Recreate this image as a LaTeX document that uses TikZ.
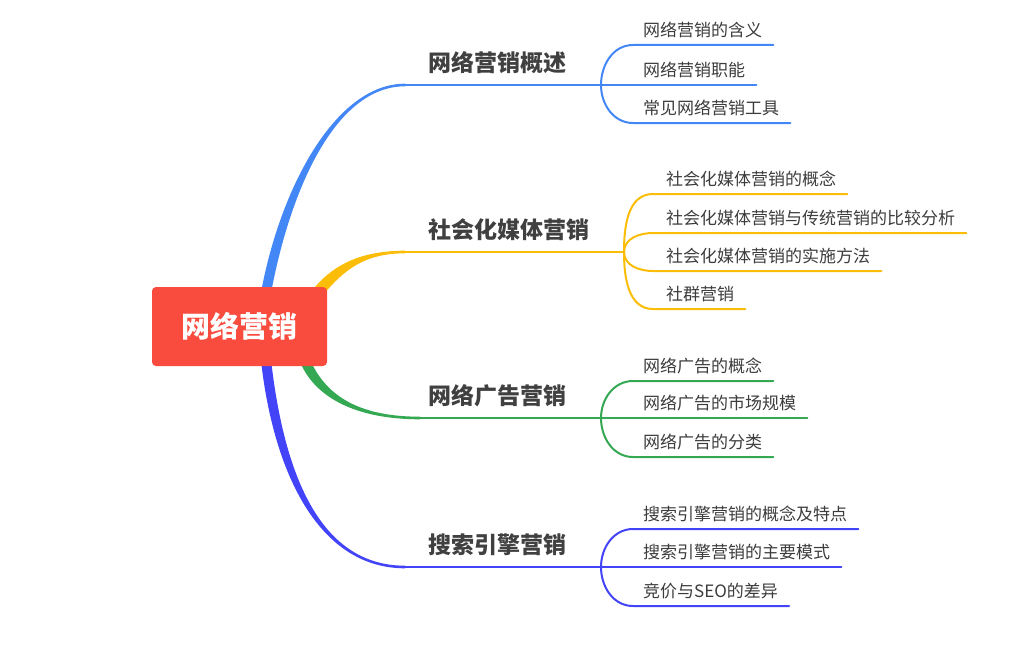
\documentclass[tikz,border=0pt]{standalone}
\usepackage{fontspec}
\usepackage{xcolor}
\usepackage{tikz}
\usetikzlibrary{calc}
\newfontfamily\cjk{Noto Sans CJK SC}

\definecolor{rootred}{HTML}{F94B3E}
\definecolor{netblue}{HTML}{4287F5}
\definecolor{sunyellow}{HTML}{FBBD08}
\definecolor{adgreen}{HTML}{34A853}
\definecolor{seviolet}{HTML}{4343F8}
\definecolor{labelgray}{HTML}{404040}
\definecolor{leafgray}{HTML}{3C3C3C}

\pgfdeclarelayer{back}
\pgfsetlayers{back,main}

% tapered main branch: colour, start, control 1, control 2, end, half width at start
\newcommand{\branchfill}[6]{%
  \fill[#1] ($(#2)+(#6)$) .. controls ($(#3)+(#6)$) and ($(#4)+(0,-1.3)$) .. ($(#5)+(0,-1.3)$)
    -- ($(#5)+(0,1.3)$) .. controls ($(#4)+(0,1.3)$) and ($(#3)-(#6)$) .. ($(#2)-(#6)$) -- cycle;}

\begin{document}
\begin{tikzpicture}[
        x=1pt, y=-1pt,
        root/.style={rectangle, rounded corners=4pt, fill=rootred, text=white, inner sep=0pt, minimum width=175pt, minimum height=79pt, font=\cjk\bfseries\fontsize{29}{29}\selectfont},
        topic/.style={anchor=south west, inner xsep=0pt, inner ysep=13.5pt, text depth=0pt, text=labelgray, font=\cjk\bfseries\fontsize{23}{23}\selectfont},
        leaf/.style={anchor=south west, inner xsep=0pt, inner ysep=8.5pt, text depth=0pt, text=leafgray, font=\cjk\fontsize{17}{17}\selectfont},
        trunk/.style={line width=2.6pt},
        twig/.style={line width=2pt, line cap=round}
    ]

    % Size
    \useasboundingbox (0,0) rectangle (1024,650);

    % Root
    \node[root] (root) at (239.5,326.5) {网络营销};

    % Branch ends and fan points
    \coordinate (ovroot) at ([xshift=26.5pt, yshift=-6pt]root.north);
    \coordinate (soroot) at ([xshift=-8pt, yshift=-4pt]root.north east);
    \coordinate (adroot) at ([xshift=-22pt, yshift=5pt]root.south east);
    \coordinate (seroot) at ([xshift=26.5pt, yshift=6pt]root.south);

    \coordinate (ovstart) at (405,85);
    \coordinate (sostart) at (405,252);
    \coordinate (adstart) at (420,418);
    \coordinate (sestart) at (405,567);

    \coordinate (ovfan) at (601,85);
    \coordinate (sofan) at (624,252);
    \coordinate (adfan) at (601,418);
    \coordinate (sefan) at (601,567);

    % Main branches
    \begin{pgfonlayer}{back}
        \branchfill{netblue}{ovroot}{285,190}{335,85}{ovstart}{-4.9,-0.9}
        \branchfill{sunyellow}{soroot}{340,266}{365,252}{sostart}{-4.3,-3.6}
        \branchfill{adgreen}{adroot}{320,395}{355,418}{adstart}{4.6,-2}
        \branchfill{seviolet}{seroot}{279,475}{320,567}{sestart}{5,-0.6}
    \end{pgfonlayer}

    % Topics
    \node[topic] (overview) at (428,85) {网络营销概述};
    \node[topic] (social) at (428,252) {社会化媒体营销};
    \node[topic] (adverts) at (428,418) {网络广告营销};
    \node[topic] (search) at (428,567) {搜索引擎营销};

    \draw[trunk, netblue] (ovstart) -- (ovfan);
    \draw[trunk, sunyellow] (sostart) -- (sofan);
    \draw[trunk, adgreen] (adstart) -- (adfan);
    \draw[trunk, seviolet] (sestart) -- (sefan);

    % Leaves of the first topic
    \node[leaf] (meaning) at (643,45) {网络营销的含义};
    \node[leaf] (functions) at (643,85) {网络营销职能};
    \node[leaf] (tools) at (643,123) {常见网络营销工具};

    \draw[twig, netblue] (ovfan) to[out=90, in=180] ([xshift=-10pt]meaning.south west) -- ([xshift=11pt]meaning.south east);
    \draw[twig, netblue] (ovfan) -- ([xshift=11pt]functions.south east);
    \draw[twig, netblue] (ovfan) to[out=-90, in=180] ([xshift=-10pt]tools.south west) -- ([xshift=11pt]tools.south east);

    % Leaves of the second topic
    \node[leaf] (concept) at (666,194) {社会化媒体营销的概念};
    \node[leaf] (compare) at (666,233) {社会化媒体营销与传统营销的比较分析};
    \node[leaf] (method) at (666,271) {社会化媒体营销的实施方法};
    \node[leaf] (community) at (666,309) {社群营销};

    \draw[twig, sunyellow] (sofan) to[out=90, in=180] ([xshift=-13pt]concept.south west) -- ([xshift=11pt]concept.south east);
    \draw[twig, sunyellow] (sofan) to[out=90, in=180] ([xshift=-13pt]compare.south west) -- ([xshift=11pt]compare.south east);
    \draw[twig, sunyellow] (sofan) to[out=-90, in=180] ([xshift=-13pt]method.south west) -- ([xshift=11pt]method.south east);
    \draw[twig, sunyellow] (sofan) to[out=-90, in=180] ([xshift=-13pt]community.south west) -- ([xshift=11pt]community.south east);

    % Leaves of the third topic
    \node[leaf] (adconcept) at (643,381) {网络广告的概念};
    \node[leaf] (adscale) at (643,418) {网络广告的市场规模};
    \node[leaf] (adtypes) at (643,457) {网络广告的分类};

    \draw[twig, adgreen] (adfan) to[out=90, in=180] ([xshift=-10pt]adconcept.south west) -- ([xshift=11pt]adconcept.south east);
    \draw[twig, adgreen] (adfan) -- ([xshift=11pt]adscale.south east);
    \draw[twig, adgreen] (adfan) to[out=-90, in=180] ([xshift=-10pt]adtypes.south west) -- ([xshift=11pt]adtypes.south east);

    % Leaves of the fourth topic
    \node[leaf] (seconcept) at (643,529) {搜索引擎营销的概念及特点};
    \node[leaf] (semodes) at (643,567) {搜索引擎营销的主要模式};
    \node[leaf] (sediff) at (643,606) {竞价与SEO的差异};

    \draw[twig, seviolet] (sefan) to[out=90, in=180] ([xshift=-10pt]seconcept.south west) -- ([xshift=11pt]seconcept.south east);
    \draw[twig, seviolet] (sefan) -- ([xshift=11pt]semodes.south east);
    \draw[twig, seviolet] (sefan) to[out=-90, in=180] ([xshift=-10pt]sediff.south west) -- ([xshift=11pt]sediff.south east);

\end{tikzpicture}
\end{document}
